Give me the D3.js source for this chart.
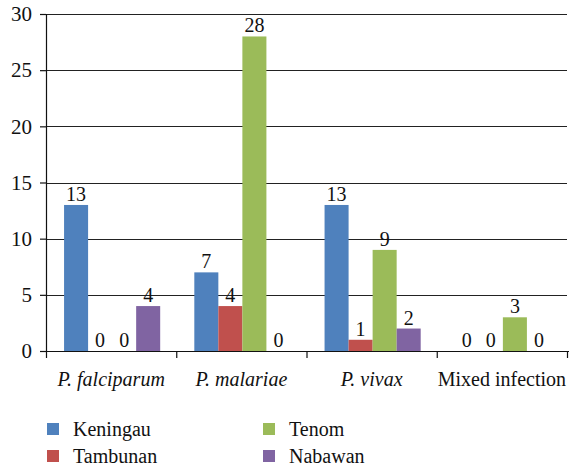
<!DOCTYPE html>
<meta charset="utf-8">
<style>
  body { margin: 0; background: #fff; }
</style>
<body>
<script src="https://cdn.jsdelivr.net/npm/d3@7"></script>
<script>

var categories = ["P. falciparum", "P. malariae", "P. vivax", "Mixed infection"];
var italicCats = [true, true, true, false];
var sites = ["Keningau", "Tambunan", "Tenom", "Nabawan"];
var colors = ["#4f81bd", "#c0504d", "#9bbb59", "#8064a2"];
var keningau = [13, 7, 13, 0];
var tambunan = [0, 4, 1, 0];
var tenom = [0, 28, 9, 3];
var nabawan = [4, 0, 2, 0];
var yTicks = [0, 5, 10, 15, 20, 25, 30];

var series = [keningau, tambunan, tenom, nabawan];
var FONT = "'Liberation Serif', 'Times New Roman', serif";

var width = 572, height = 467;
var margin = {top: 14, right: 5, bottom: 116, left: 46};
var w = width - margin.left - margin.right,
    h = height - margin.top - margin.bottom;

var svg = d3.select("body").append("svg")
    .attr("width", width)
    .attr("height", height)
    .attr("font-family", FONT);

var g = svg.append("g")
    .attr("transform", "translate(" + margin.left + "," + margin.top + ")");

var x0 = d3.scaleBand().domain(categories).range([0, w]).paddingInner(0).paddingOuter(0);
var x1 = d3.scaleBand().domain(sites).range([1, x0.bandwidth() + 1]).paddingOuter(0.71).paddingInner(0);
var y = d3.scaleLinear().domain([0, 30]).range([h, 0]);

// gridlines
g.selectAll(".grid")
  .data(yTicks.slice(1))
  .enter().append("line")
    .attr("x1", 0).attr("x2", w)
    .attr("y1", function(d) { return Math.round(y(d)) + 0.5; })
    .attr("y2", function(d) { return Math.round(y(d)) + 0.5; })
    .style("stroke", "#222")
    .style("stroke-width", 1.2);

// bars
var groups = g.selectAll(".grp")
  .data(categories)
  .enter().append("g")
    .attr("transform", function(d) { return "translate(" + x0(d) + ",0)"; });

function rows(d, i) {
  return sites.map(function(s, j) { return {site: s, v: series[j][i], j: j}; });
}

groups.selectAll("rect")
  .data(rows)
  .enter().append("rect")
    .attr("x", function(d) { return x1(d.site); })
    .attr("width", x1.bandwidth())
    .attr("y", function(d) { return y(d.v); })
    .attr("height", function(d) { return h - y(d.v); })
    .style("fill", function(d) { return colors[d.j]; });

groups.selectAll(".lbl")
  .data(rows)
  .enter().append("text")
    .attr("x", function(d) { return x1(d.site) + x1.bandwidth() / 2; })
    .attr("y", function(d) { return y(d.v) - 4; })
    .attr("text-anchor", "middle")
    .style("font-family", FONT)
    .style("font-size", "20px")
    .style("fill", "#111")
    .text(function(d) { return d.v; });

// y axis
var yAxis = g.append("g")
  .call(d3.axisLeft(y).tickValues(yTicks).tickSize(6).tickPadding(8));
yAxis.attr("font-family", FONT);
yAxis.select(".domain").style("stroke", "#111").style("stroke-width", 1.2);
yAxis.selectAll("line").style("stroke", "#111").style("stroke-width", 1.2);
yAxis.selectAll("text")
  .style("font-size", "21px")
  .style("font-family", FONT)
  .attr("fill", "#111");

// x axis
var xAxis = g.append("g")
  .attr("transform", "translate(0," + h + ")");
xAxis.append("line")
  .attr("x1", 0).attr("x2", w + 2)
  .attr("y1", 0.5).attr("y2", 0.5)
  .style("stroke", "#111").style("stroke-width", 1.2);
xAxis.selectAll(".tk")
  .data(categories.concat(["end"]))
  .enter().append("line")
    .attr("x1", function(d, i) { return i * x0.bandwidth() + 0.5; })
    .attr("x2", function(d, i) { return i * x0.bandwidth() + 0.5; })
    .attr("y1", 0).attr("y2", 7)
    .style("stroke", "#111").style("stroke-width", 1.2);
xAxis.selectAll(".cat")
  .data(categories)
  .enter().append("text")
    .attr("x", function(d) { return x0(d) + x0.bandwidth() / 2; })
    .attr("y", 35)
    .attr("text-anchor", "middle")
    .style("font-family", FONT)
    .style("font-size", "20px")
    .style("fill", "#111")
    .style("font-style", function(d, i) { return italicCats[i] ? "italic" : "normal"; })
    .text(function(d) { return d; });

// legend
var legend = svg.selectAll(".leg")
  .data(sites)
  .enter().append("g")
    .attr("transform", function(d, i) {
      var col = Math.floor(i / 2), row = i % 2;
      return "translate(" + (47 + col * 216) + "," + (423 + row * 27) + ")";
    });
legend.append("rect")
  .attr("width", 12).attr("height", 12)
  .style("fill", function(d, i) { return colors[i]; });
legend.append("text")
  .attr("x", 26).attr("y", 13)
  .style("font-family", FONT)
  .style("font-size", "20px")
  .style("fill", "#111")
  .text(function(d) { return d; });

</script>
</body>
